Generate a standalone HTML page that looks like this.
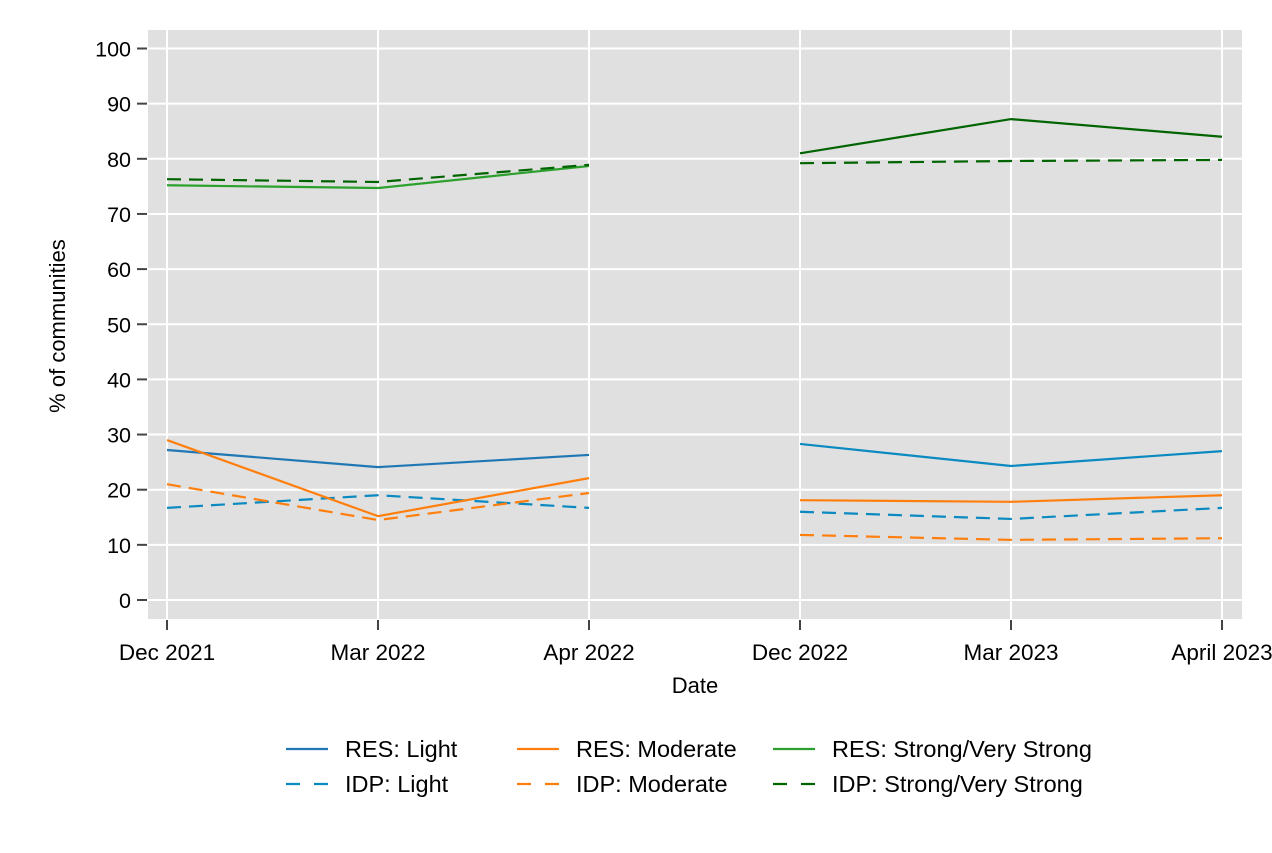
<!DOCTYPE html>
<html><head><meta charset="utf-8"><style>
body{margin:0;background:#fff;font-family:"Liberation Sans",Arial,sans-serif}
svg text{font-family:"Liberation Sans",Arial,sans-serif}
</style></head><body>
<svg id="chart" width="1272" height="848">
<rect x="148" y="30" width="1094" height="589" fill="#e0e0e0"/>
<g id="grid"></g><g id="axes"></g><g id="series"></g>
<text x="695" y="693" font-size="22" text-anchor="middle">Date</text>
<text transform="translate(65,326) rotate(-90)" font-size="22" text-anchor="middle">% of communities</text>
<g id="legend"></g>
</svg>
<script>
const categories=["Dec 2021","Mar 2022","Apr 2022","Dec 2022","Mar 2023","April 2023"];
const yTicks=[0,10,20,30,40,50,60,70,80,90,100];
const resLight=[27.2,24.1,26.3,28.3,24.3,27.0];
const idpLight=[16.7,19.0,16.7,16.0,14.7,16.7];
const resModerate=[29.0,15.2,22.1,18.1,17.8,19.0];
const idpModerate=[21.0,14.5,19.4,11.8,10.9,11.2];
const resStrong=[75.2,74.7,78.7,81.0,87.2,84.0];
const idpStrong=[76.3,75.8,78.9,79.2,79.6,79.8];
const NS="http://www.w3.org/2000/svg";
const xPos=i=>167+i*211;
const yPos=v=>600-v*5.515;
function mk(tag,attrs,parent){const e=document.createElementNS(NS,tag);for(const k in attrs)e.setAttribute(k,attrs[k]);document.getElementById(parent).appendChild(e);return e;}
yTicks.forEach(t=>{
  const g=mk('line',{x1:148,x2:1242,y1:yPos(t),y2:yPos(t),stroke:'#fff','stroke-width':2},'grid');
  
  
  const tk=mk('line',{x1:137,x2:147,y1:yPos(t),y2:yPos(t),stroke:'#444','stroke-width':2},'axes');
  
  
  const tx=mk('text',{x:131,y:yPos(t)+8,'font-size':21.5,'text-anchor':'end'},'axes');
  tx.textContent=t;
  
  
});
categories.forEach((c,i)=>{
  const g=mk('line',{x1:xPos(i),x2:xPos(i),y1:30,y2:619,stroke:'#fff','stroke-width':2},'grid');
  
  
  const tk=mk('line',{x1:xPos(i),x2:xPos(i),y1:620,y2:630,stroke:'#444','stroke-width':2},'axes');
  
  
  const tx=mk('text',{x:xPos(i),y:660,'font-size':22.5,'text-anchor':'middle'},'axes');
  tx.textContent=c;
  
  
});
function draw(vals,c1,c2,dash,name){
  [[0,3,c1],[3,6,c2]].forEach(([a,b,col])=>{
    const pts=vals.slice(a,b).map((v,j)=>xPos(a+j)+','+yPos(v)).join(' ');
    const p=mk('polyline',{points:pts,fill:'none',stroke:col,'stroke-width':2.2},'series');
    if(dash)p.setAttribute('stroke-dasharray','14,8');
    
    
  });
}
draw(resLight,'#1f77b4','#0a8ac0',false,'res-light-line');
draw(idpLight,'#0a8ac0','#0a8ac0',true,'idp-light-line');
draw(resModerate,'#ff7f0e','#ff7f0e',false,'res-moderate-line');
draw(idpModerate,'#ff7f0e','#ff7f0e',true,'idp-moderate-line');
draw(resStrong,'#2ca02c','#006400',false,'res-strong-line');
draw(idpStrong,'#006400','#006400',true,'idp-strong-line');
const legendItems=[["RES: Light","#1f77b4",false,286,749],["RES: Moderate","#ff7f0e",false,517,749],["RES: Strong/Very Strong","#2ca02c",false,773,749],
["IDP: Light","#0a8ac0",true,286,784],["IDP: Moderate","#ff7f0e",true,517,784],["IDP: Strong/Very Strong","#006400",true,773,784]];
legendItems.forEach(([lab,col,d,x,y])=>{
  const l=mk('line',{x1:x,x2:x+42,y1:y,y2:y,stroke:col,'stroke-width':2.2},'legend');
  if(d)l.setAttribute('stroke-dasharray','14,14');
  
  
  const t=mk('text',{x:x+59,y:y+8,'font-size':23.5},'legend');
  t.textContent=lab;
  
  
});
</script>
</body></html>
